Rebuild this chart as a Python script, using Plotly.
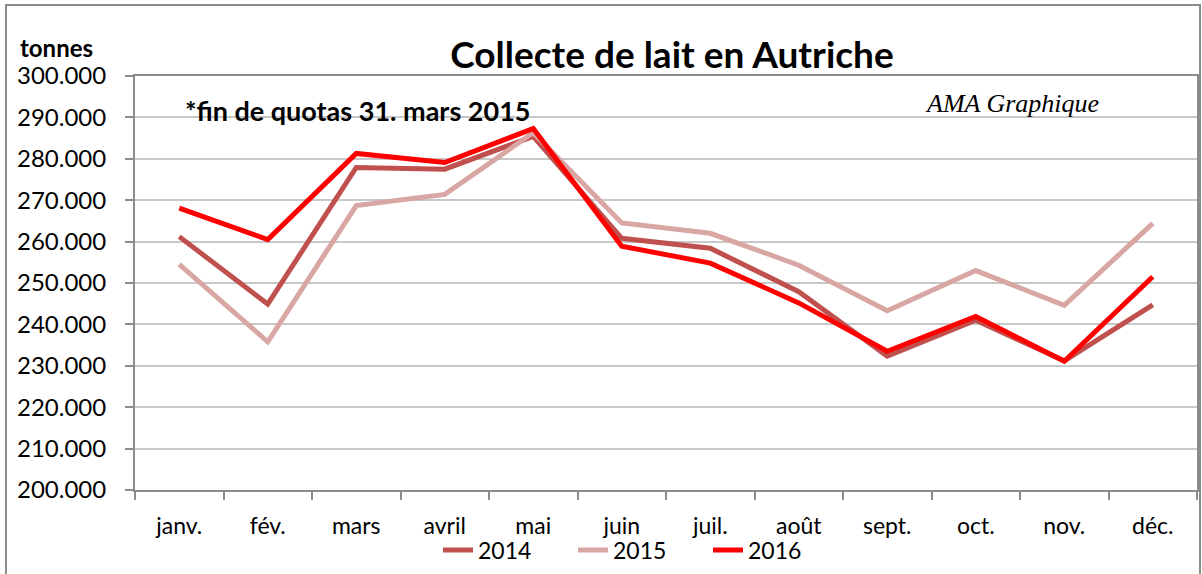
import plotly.graph_objects as go

months = ["janv.", "fév.", "mars", "avril", "mai", "juin", "juil.", "août", "sept.", "oct.", "nov.", "déc."]
v2014 = [261200, 244900, 277900, 277500, 285400, 260800, 258400, 247900, 232300, 241000, 231200, 244700]
v2015 = [254500, 235800, 268700, 271400, 286300, 264500, 262000, 254300, 243300, 253000, 244600, 264400]
v2016 = [268100, 260500, 281300, 279100, 287300, 258900, 254800, 245200, 233500, 241900, 231100, 251500]
y_ticks = list(range(200000, 300001, 10000))

fig = go.Figure()
fig.add_trace(go.Scatter(x=months, y=v2014, name="2014", mode="lines",
                         line=dict(color="#C0504D", width=5)))
fig.add_trace(go.Scatter(x=months, y=v2015, name="2015", mode="lines",
                         line=dict(color="#D8A7A4", width=5)))
fig.add_trace(go.Scatter(x=months, y=v2016, name="2016", mode="lines",
                         line=dict(color="#FF0000", width=5)))

W, H = 1202, 574
L, R, T, B = 135, 5, 76, 84
pw, ph = W - L - R, H - T - B

def px(x):
    return (x - L) / pw

def py(y):
    return (H - B - y) / ph

fig.update_layout(
    width=W, height=H,
    margin=dict(l=L, r=R, t=T, b=B, autoexpand=False),
    paper_bgcolor="white", plot_bgcolor="white",
    separators=",.",
    font=dict(family="Lato, Open Sans, sans-serif", color="black", size=23),
    title=dict(text="<b>Collecte de lait en Autriche</b>", x=672 / W, xanchor="center",
               y=1 - 55 / H, yanchor="middle", font=dict(size=37, family="Lato, sans-serif")),
    showlegend=True,
    legend=dict(orientation="h", x=px(438), xanchor="left", y=py(550), yanchor="middle",
                font=dict(size=23), tracegroupgap=0, entrywidth=90, bgcolor="rgba(0,0,0,0)"),
    xaxis=dict(type="category", range=[-0.5, 11.5], showgrid=False, showline=True,
               linecolor="#8C8C8C", linewidth=2, mirror=True, ticks="outside",
               tickson="boundaries", ticklen=8, tickcolor="#8C8C8C", tickwidth=1.5,
               tickfont=dict(size=23), ticklabelstandoff=14, fixedrange=True),
    yaxis=dict(range=[200000, 300000], tickvals=y_ticks, tickformat=",d", showgrid=True,
               gridcolor="#C8C8C8", gridwidth=1.5, showline=True, linecolor="#8C8C8C", linewidth=2,
               mirror=True, ticks="outside", ticklen=8, tickcolor="#8C8C8C", tickwidth=1.5,
               tickfont=dict(size=24), ticklabelstandoff=14, zeroline=False),
    annotations=[
        dict(text="<b>tonnes</b>", xref="paper", yref="paper", x=px(18), y=py(48),
             xanchor="left", yanchor="middle", showarrow=False, font=dict(size=24)),
        dict(text="<b>*fin de quotas 31. mars 2015</b>", xref="paper", yref="paper", x=px(183), y=py(110),
             xanchor="left", yanchor="middle", showarrow=False, font=dict(size=27)),
        dict(text="<i>AMA Graphique</i>", xref="paper", yref="paper", x=px(923), y=py(104),
             xanchor="left", yanchor="middle", showarrow=False,
             font=dict(size=26, family="Liberation Serif, Times New Roman, serif")),
    ],
    shapes=[
        dict(type="rect", xref="paper", yref="paper", x0=px(6), x1=px(1200), y0=py(600), y1=py(5),
             line=dict(color="#8C8C8C", width=2), fillcolor="rgba(0,0,0,0)", layer="below"),
    ],
)

fig.write_html("out.html", config={"displayModeBar": False},
               post_script="document.body.style.margin='0';document.body.style.overflow='hidden';")
